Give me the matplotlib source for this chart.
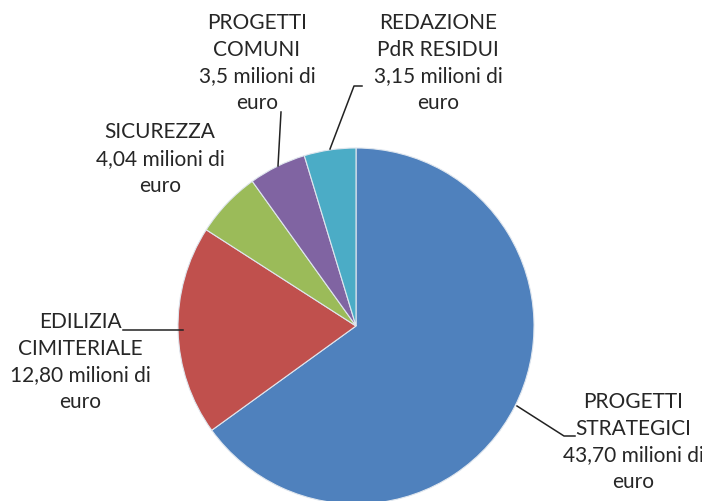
import matplotlib
matplotlib.use("Agg")
import matplotlib.pyplot as plt

categories = ["PROGETTI\nSTRATEGICI", "EDILIZIA\nCIMITERIALE", "SICUREZZA", "PROGETTI\nCOMUNI", "REDAZIONE\nPdR RESIDUI"]
values = [43.70, 12.80, 4.04, 3.5, 3.15]
value_labels = ["43,70", "12,80", "4,04", "3,5", "3,15"]
colors = ["#4F81BD", "#C0504D", "#9BBB59", "#8064A2", "#4BACC6"]

W, H = 702, 501
fig = plt.figure(figsize=(W / 100, H / 100), dpi=100)
ax = fig.add_axes([0, 0, 1, 1])

cx, cy, r = 356, H - 326, 178
ax.pie(values, colors=colors, startangle=90, counterclock=False,
       center=(cx, cy), radius=r, frame=True,
       wedgeprops=dict(edgecolor="#dfe6ee", linewidth=0.8))
ax.set_xlim(0, W)
ax.set_ylim(0, H)
ax.set_aspect("equal")
ax.axis("off")

font = dict(family="Lato", fontsize=15, color="#262626", ha="center", va="center",
            linespacing=1.42)

# label centres in pixel coords (y from top)
label_pos = [(633, 442), (80, 362), (160, 159), (257, 63), (438, 63)]
for cat, vl, (x, y) in zip(categories, value_labels, label_pos):
    ax.text(x, H - y, f"{cat}\n{vl} milioni di\neuro", **font)

# leader lines (pixel coords, y from top)
leaders = [
    [(517, 406), (564, 436), (575, 436)],
    [(123, 330), (183, 330)],
    [(278, 166), (281, 112)],
    [(330, 149), (354, 86), (362, 86)],
]
for pts in leaders:
    xs = [p[0] for p in pts]
    ys = [H - p[1] for p in pts]
    ax.plot(xs, ys, color="#222222", lw=1.1)

fig.savefig("out.png", dpi=100)
